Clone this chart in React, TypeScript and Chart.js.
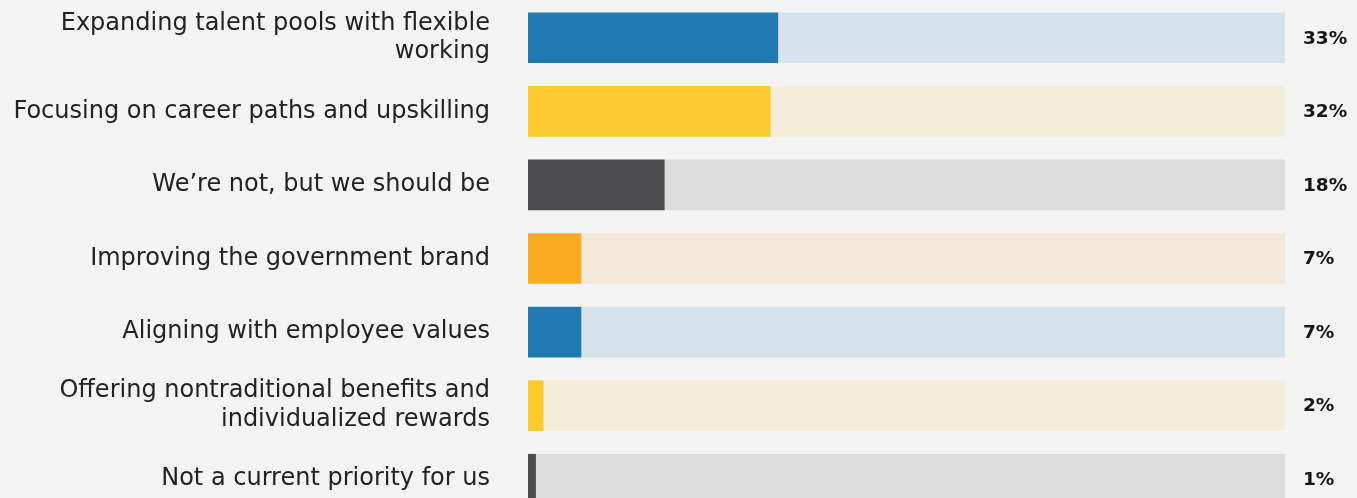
import React, { useEffect, useRef } from "react";
import { Chart, registerables } from "chart.js";

Chart.register(...registerables);

const categories: (string | string[])[] = [
  ["Expanding talent pools with flexible", "working"],
  "Focusing on career paths and upskilling",
  "We’re not, but we should be",
  "Improving the government brand",
  "Aligning with employee values",
  ["Offering nontraditional benefits and", "individualized rewards"],
  "Not a current priority for us",
];
const values = [33, 32, 18, 7, 7, 2, 1];
const barColors = ["#2079b0", "#fbca2e", "#4d4d4f", "#fbab21", "#2079b0", "#fbca2e", "#4d4d4f"];
const trackColors = ["#d6e3ec", "#f4eed9", "#dcdcdc", "#f3e8d9", "#d6e3ec", "#f4eed9", "#dcdcdc"];
const percentLabels = values.map((v) => `${v}%`);

const FONT = "'DejaVu Sans', sans-serif";

const valueLabelPlugin = {
  id: "valueLabels",
  afterDatasetsDraw(chart: any) {
    const { ctx, chartArea } = chart;
    const meta = chart.getDatasetMeta(0);
    ctx.save();
    ctx.font = `bold 18.5px ${FONT}`;
    ctx.fillStyle = "#151515";
    ctx.textAlign = "left";
    ctx.textBaseline = "middle";
    meta.data.forEach((bar: any, i: number) => {
      ctx.fillText(percentLabels[i], chartArea.right + 18, bar.y + 1);
    });
    ctx.restore();
  },
};

export default function App() {
  const ref = useRef<HTMLCanvasElement>(null);
  useEffect(() => {
    if (!ref.current) return;
    const chart = new Chart(ref.current, {
      type: "bar",
      data: {
        labels: categories as any,
        datasets: [
          {
            data: values,
            backgroundColor: barColors,
            barThickness: 50,
            stack: "s",
          },
          {
            data: values.map((v) => 100 - v),
            backgroundColor: trackColors,
            barThickness: 50,
            stack: "s",
          },
        ],
      },
      options: {
        indexAxis: "y",
        animation: false,
        responsive: true,
        maintainAspectRatio: false,
        layout: { padding: { top: 1, bottom: 0, left: 0, right: 72 } },
        plugins: { legend: { display: false }, tooltip: { enabled: false } },
        scales: {
          x: { display: false, stacked: true, min: 0, max: 100 },
          y: {
            stacked: true,
            grid: { display: false },
            border: { display: false },
            afterFit: (scale: any) => {
              scale.width = 528;
              scale.paddingTop = 0;
              scale.paddingBottom = 0;
            },
            ticks: {
              padding: 30,
              color: "#222222",
              font: { family: FONT, size: 24, lineHeight: 1.2 },
            },
          },
        },
      },
      plugins: [valueLabelPlugin],
    });
    return () => chart.destroy();
  }, []);
  return (
    <div
      style={{
        position: "absolute",
        left: 0,
        top: 0,
        width: 1357,
        height: 516,
        background: "#f4f4f4",
      }}
    >
      <canvas ref={ref} />
    </div>
  );
}
